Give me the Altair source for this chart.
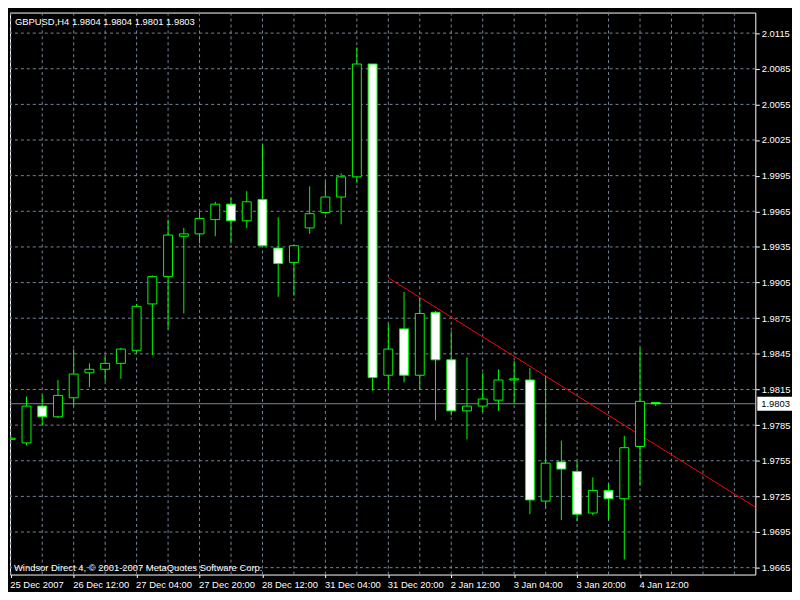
import altair as alt
import pandas as pd

# ---- data ----
bar_index = list(range(42))
opens = [1.9773, 1.9770, 1.9801, 1.9792, 1.9808, 1.9829, 1.9832, 1.9837, 1.9848, 1.9887,
         1.9910, 1.9944, 1.9946, 1.9958, 1.9971, 1.9957, 1.9975, 1.9934, 1.9922, 1.9951,
         1.9964, 1.9977, 1.9994, 2.0089, 1.9827, 1.9866, 1.9827, 1.9880, 1.9840, 1.9797,
         1.9801, 1.9806, 1.9823, 1.9823, 1.9721, 1.9754, 1.9746, 1.9711, 1.9730, 1.9723,
         1.9767, 1.9804]
highs = [1.9775, 1.9809, 1.9810, 1.9823, 1.9849, 1.9837, 1.9844, 1.9850, 1.9887, 1.9911,
         1.9958, 1.9951, 1.9965, 1.9973, 1.9976, 1.9982, 2.0021, 1.9960, 1.9937, 1.9986,
         1.9990, 1.9997, 2.0103, 2.0089, 1.9870, 1.9897, 1.9892, 1.9881, 1.9864, 1.9842,
         1.9829, 1.9832, 1.9839, 1.9833, 1.9826, 1.9772, 1.9755, 1.9741, 1.9736, 1.9776,
         1.9850, 1.9804]
lows = [1.9772, 1.9768, 1.9785, 1.9791, 1.9801, 1.9817, 1.9822, 1.9824, 1.9846, 1.9844,
        1.9866, 1.9879, 1.9938, 1.9944, 1.9938, 1.9951, 1.9935, 1.9893, 1.9894, 1.9946,
        1.9963, 1.9954, 1.9989, 1.9814, 1.9815, 1.9821, 1.9815, 1.9789, 1.9793, 1.9773,
        1.9796, 1.9797, 1.9803, 1.9710, 1.9715, 1.9705, 1.9704, 1.9709, 1.9705, 1.9672,
        1.9734, 1.9801]
closes = [1.9774, 1.9801, 1.9792, 1.9810, 1.9828, 1.9832, 1.9837, 1.9849, 1.9885, 1.9910,
          1.9945, 1.9946, 1.9959, 1.9971, 1.9957, 1.9973, 1.9936, 1.9921, 1.9936, 1.9963,
          1.9977, 1.9994, 2.0089, 1.9825, 1.9849, 1.9827, 1.9879, 1.9840, 1.9797, 1.9801,
          1.9807, 1.9823, 1.9824, 1.9722, 1.9753, 1.9748, 1.9710, 1.9730, 1.9723, 1.9766,
          1.9805, 1.9803]

time_tick_index = [0, 4, 8, 12, 16, 20, 24, 28, 32, 36, 40]
time_tick_labels = ["25 Dec 2007", "26 Dec 12:00", "27 Dec 04:00", "27 Dec 20:00",
                    "28 Dec 12:00", "31 Dec 04:00", "31 Dec 20:00", "2 Jan 12:00",
                    "3 Jan 04:00", "3 Jan 20:00", "4 Jan 12:00"]
vertical_grid_index = list(range(0, 48, 2))
price_ticks = [1.9665, 1.9695, 1.9725, 1.9755, 1.9785, 1.9815, 1.9845, 1.9875,
               1.9905, 1.9935, 1.9965, 1.9995, 2.0025, 2.0055, 2.0085, 2.0115]
trend_index = [24, 47.33]
trend_price = [1.9909, 1.9716]
last_price = 1.9803
header_text = "GBPUSD,H4  1.9804 1.9804 1.9801 1.9803"
footer_text = "Windsor Direct 4, \u00a9 2001-2007 MetaQuotes Software Corp."

# ---- tables ----
candles = pd.DataFrame({"i": bar_index, "open": opens, "high": highs,
                        "low": lows, "close": closes})
candles["bull"] = candles["close"] >= candles["open"]
vgrid = pd.DataFrame({"i": vertical_grid_index})
hgrid = pd.DataFrame({"p": price_ticks})
trend = pd.DataFrame({"i": trend_index, "p": trend_price})
last = pd.DataFrame({"p": [last_price], "label": [f"{last_price:.4f}"]})

W, H = 752, 567
FONT = "Liberation Sans"
FS = 9.5
GRID = "#778899"
LIME = "#00ff00"

xs = alt.Scale(domain=[-0.05, 47.33], nice=False, zero=False)
ys = alt.Scale(domain=[1.96592, 2.01323], nice=False, zero=False)

label_array = "[" + ",".join("'" + s + "'" for s in time_tick_labels) + "]"

x_axis = alt.Axis(values=time_tick_index, labelExpr=f"{label_array}[round(datum.value/4)]",
                  grid=False, domain=False, tickColor="white", tickSize=3, tickWidth=1,
                  labelColor="white", labelFont=FONT, labelFontSize=FS, labelAlign="left",
                  labelBaseline="top", labelPadding=2, labelOffset=-1, labelOverlap=False,
                  labelFlush=False, title=None)
y_axis = alt.Axis(values=price_ticks, format=".4f", orient="right", grid=False, domain=False,
                  tickColor="white", tickSize=4, tickWidth=1, labelColor="white",
                  labelFont=FONT, labelFontSize=FS, labelPadding=2, labelOverlap=False,
                  labelFlush=False, title=None)


def X(field):
    return alt.X(field, scale=xs, axis=x_axis)


def Y(field):
    return alt.Y(field, scale=ys, axis=y_axis)


vlines = alt.Chart(vgrid).mark_rule(color=GRID, strokeDash=[3, 3], strokeWidth=1).encode(
    x=X("i:Q"))
hlines = alt.Chart(hgrid).mark_rule(color=GRID, strokeDash=[3, 3], strokeWidth=1).encode(
    y=Y("p:Q"))
price_line = alt.Chart(last).mark_rule(color=GRID, strokeWidth=1).encode(y=Y("p:Q"))
trend_line = alt.Chart(trend).mark_line(color="#ff0000", strokeWidth=1, clip=True).encode(
    x=X("i:Q"), y=Y("p:Q"))
wicks = alt.Chart(candles).mark_rule(color=LIME, strokeWidth=1, clip=True).encode(
    x=X("i:Q"), y=Y("low:Q"), y2="high:Q")
bodies = alt.Chart(candles).mark_rect(stroke=LIME, strokeWidth=1, xOffset=-4.5,
                                      x2Offset=4.5, clip=True).encode(
    x=X("i:Q"), x2="i:Q", y=Y("open:Q"), y2="close:Q",
    fill=alt.condition("datum.bull", alt.value("#000000"), alt.value("#ffffff")))
header = alt.Chart(pd.DataFrame({"t": [header_text]})).mark_text(
    align="left", baseline="middle", color="white", font=FONT, fontSize=FS).encode(
    x=alt.value(5), y=alt.value(10), text="t:N")
footer = alt.Chart(pd.DataFrame({"t": [footer_text]})).mark_text(
    align="left", baseline="middle", color="white", font=FONT, fontSize=FS).encode(
    x=alt.value(4), y=alt.value(H - 7), text="t:N")
price_box = alt.Chart(last).mark_rect(color="white", yOffset=-7, y2Offset=7).encode(
    x=alt.value(W + 2), x2=alt.value(W + 37), y=Y("p:Q"), y2="p:Q")
price_text = alt.Chart(last).mark_text(align="left", baseline="middle", color="black",
                                       font=FONT, fontSize=FS).encode(
    x=alt.value(W + 6), y=Y("p:Q"), text="label:N")

chart = alt.layer(vlines, hlines, price_line, trend_line, wicks, bodies, header, footer,
                  price_box, price_text).properties(
    width=W, height=H, background="#000000",
    padding={"left": 1, "top": 1, "right": 0, "bottom": 0}
).configure_view(stroke="white", strokeWidth=1)

chart.save("out.html", embed_options={"renderer": "svg", "actions": False})
